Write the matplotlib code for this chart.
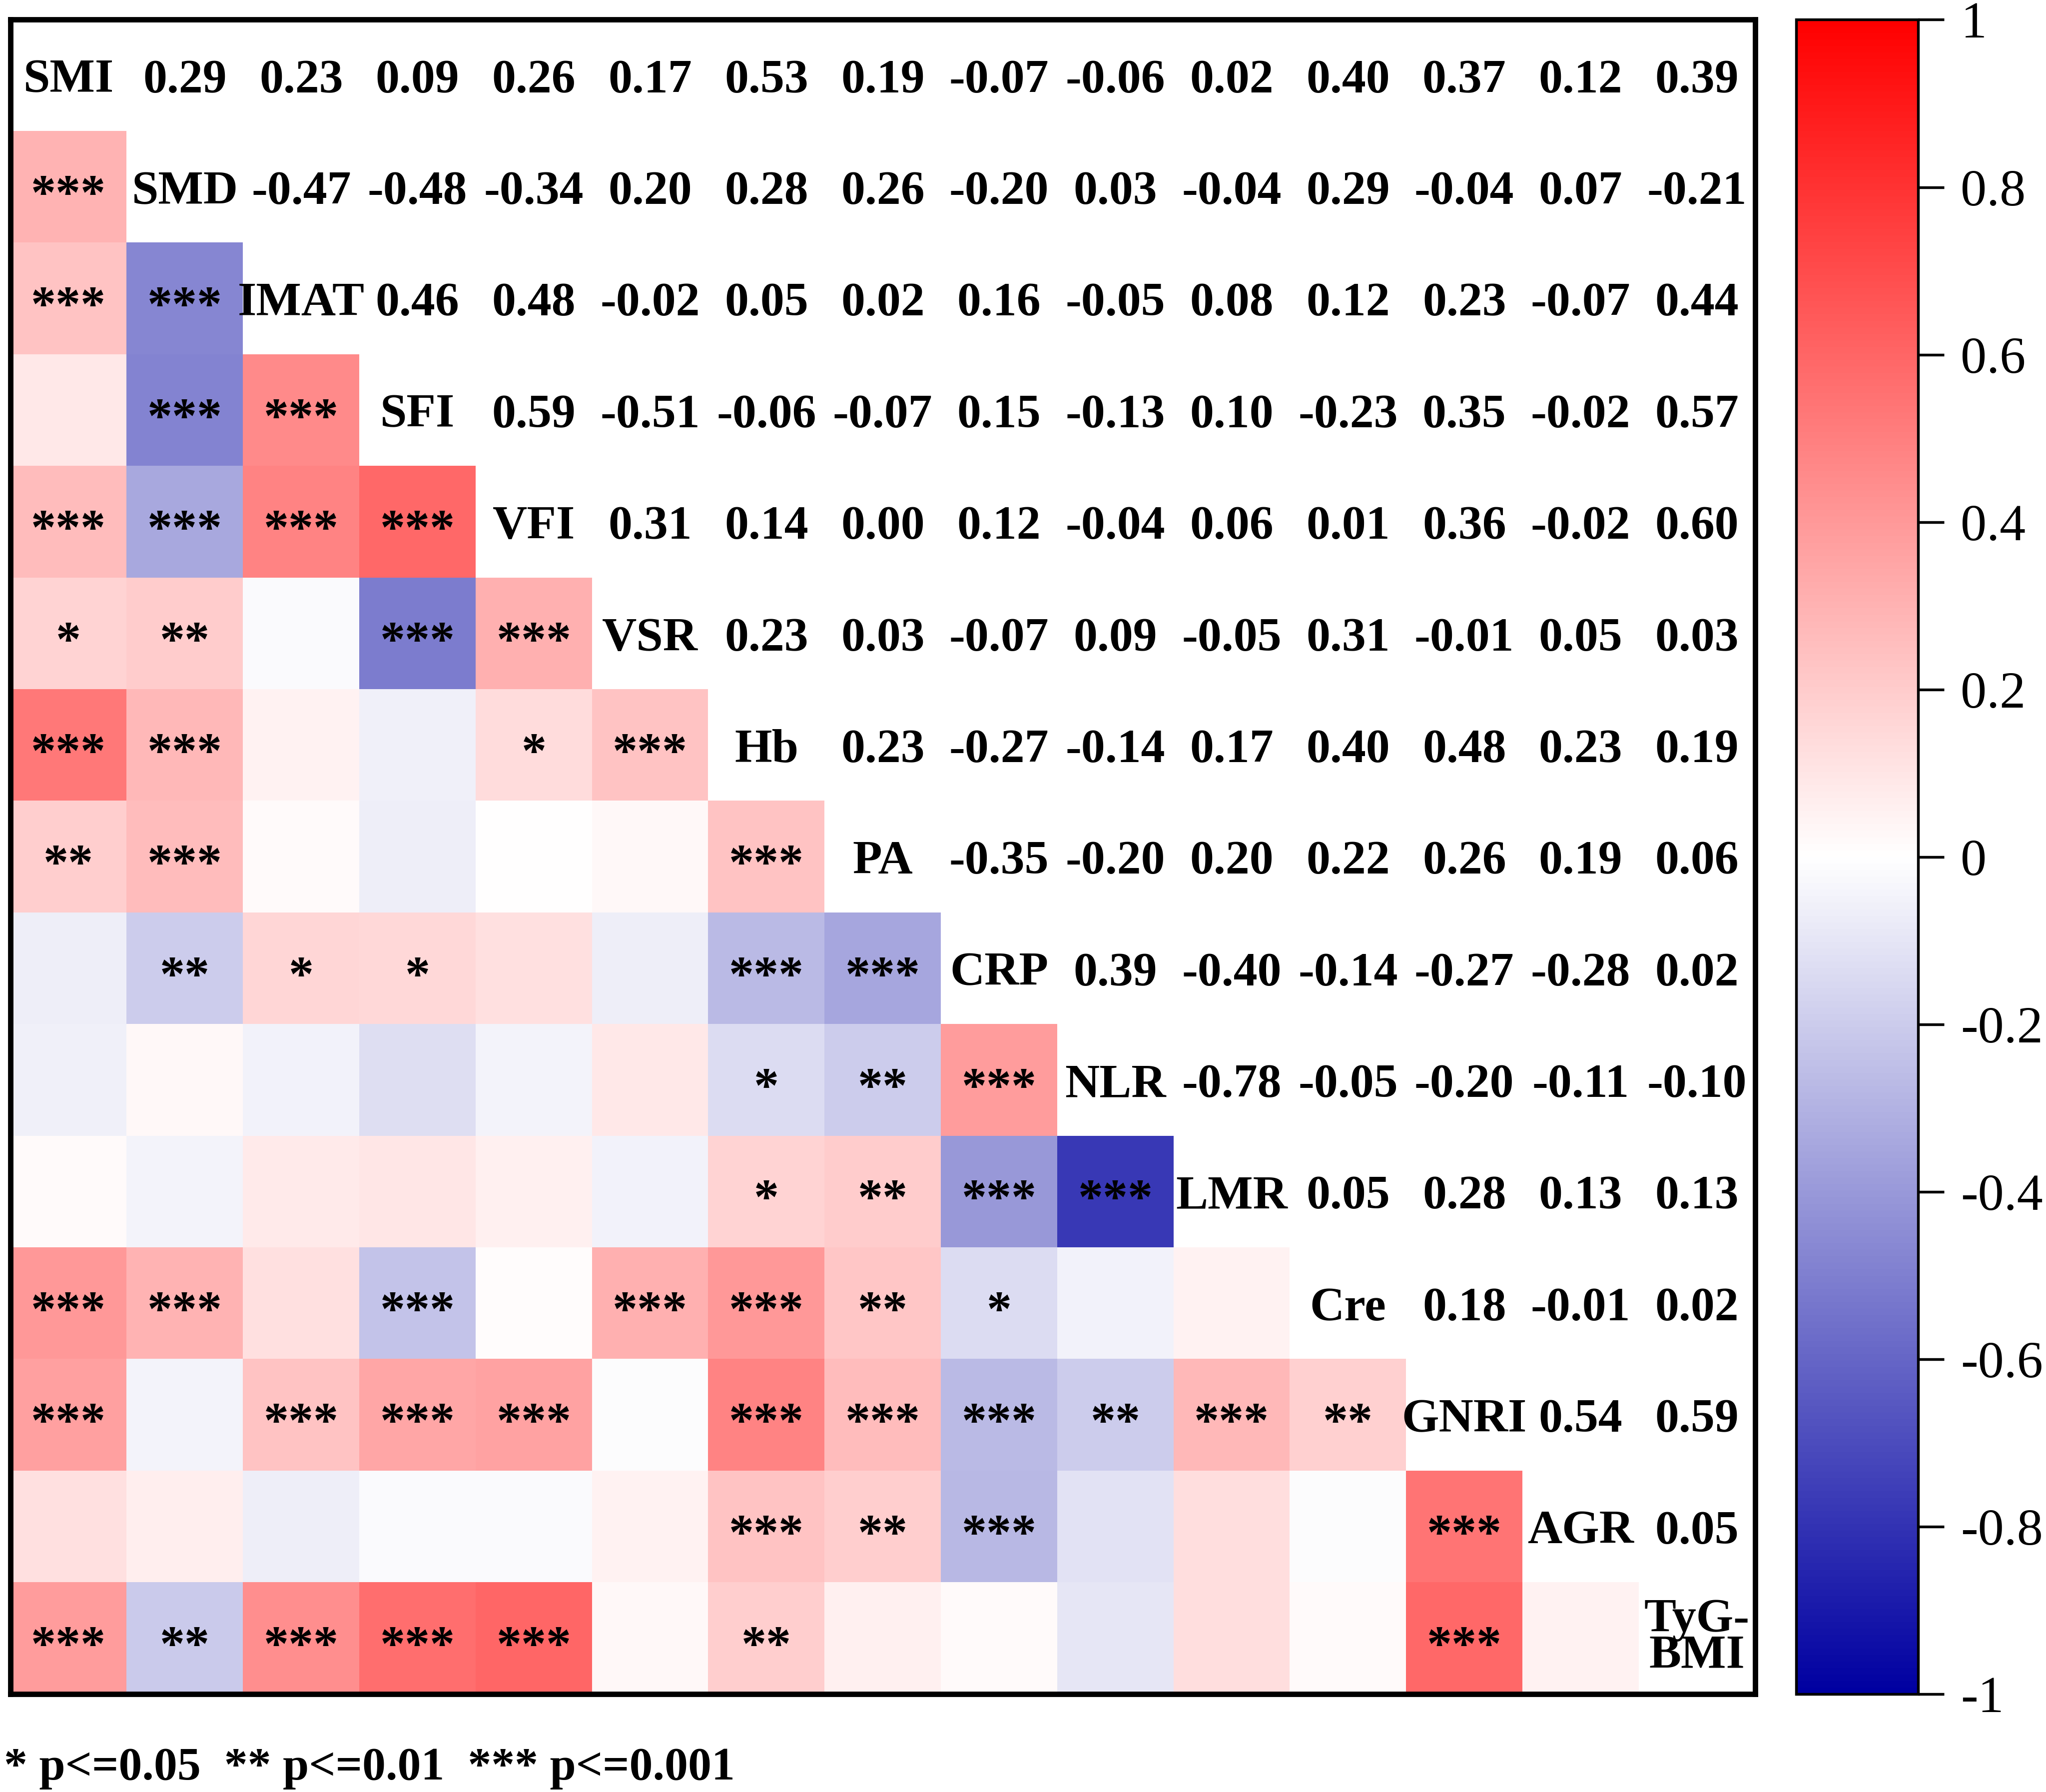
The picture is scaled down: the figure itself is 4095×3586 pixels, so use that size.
import numpy as np
import matplotlib.pyplot as plt
from matplotlib.colors import LinearSegmentedColormap

plt.rcParams['font.family'] = ['Liberation Serif', 'DejaVu Serif']

labels = ["SMI", "SMD", "IMAT", "SFI", "VFI", "VSR", "Hb", "PA",
          "CRP", "NLR", "LMR", "Cre", "GNRI", "AGR", "TyG-\nBMI"]

# correlation coefficients, row i holds the values for columns j > i
upper_vals = [
    [0.29, 0.23, 0.09, 0.26, 0.17, 0.53, 0.19, -0.07, -0.06, 0.02, 0.40, 0.37, 0.12, 0.39],
    [-0.47, -0.48, -0.34, 0.20, 0.28, 0.26, -0.20, 0.03, -0.04, 0.29, -0.04, 0.07, -0.21],
    [0.46, 0.48, -0.02, 0.05, 0.02, 0.16, -0.05, 0.08, 0.12, 0.23, -0.07, 0.44],
    [0.59, -0.51, -0.06, -0.07, 0.15, -0.13, 0.10, -0.23, 0.35, -0.02, 0.57],
    [0.31, 0.14, 0.00, 0.12, -0.04, 0.06, 0.01, 0.36, -0.02, 0.60],
    [0.23, 0.03, -0.07, 0.09, -0.05, 0.31, -0.01, 0.05, 0.03],
    [0.23, -0.27, -0.14, 0.17, 0.40, 0.48, 0.23, 0.19],
    [-0.35, -0.20, 0.20, 0.22, 0.26, 0.19, 0.06],
    [0.39, -0.40, -0.14, -0.27, -0.28, 0.02],
    [-0.78, -0.05, -0.20, -0.11, -0.10],
    [0.05, 0.28, 0.13, 0.13],
    [0.18, -0.01, 0.02],
    [0.54, 0.59],
    [0.05],
]

# significance marks, row i holds the marks for columns j < i
lower_stars = [
    [],
    ["***"],
    ["***", "***"],
    ["", "***", "***"],
    ["***", "***", "***", "***"],
    ["*", "**", "", "***", "***"],
    ["***", "***", "", "", "*", "***"],
    ["**", "***", "", "", "", "", "***"],
    ["", "**", "*", "*", "", "", "***", "***"],
    ["", "", "", "", "", "", "*", "**", "***"],
    ["", "", "", "", "", "", "*", "**", "***", "***"],
    ["***", "***", "", "***", "", "***", "***", "**", "*", "", ""],
    ["***", "", "***", "***", "***", "", "***", "***", "***", "**", "***", "**"],
    ["", "", "", "", "", "", "***", "**", "***", "", "", "", "***"],
    ["***", "**", "***", "***", "***", "", "**", "", "", "", "", "", "***", ""],
]

cbar_ticks = [-1, -0.8, -0.6, -0.4, -0.2, 0, 0.2, 0.4, 0.6, 0.8, 1]
legend_text = "* p<=0.05  ** p<=0.01  *** p<=0.001"

n = len(labels)
corr = np.eye(n)
for i, row in enumerate(upper_vals):
    for k, v in enumerate(row):
        corr[i, i + 1 + k] = v
        corr[i + 1 + k, i] = v

lower_mask = np.tril(np.ones((n, n), dtype=bool), k=-1)
colored = np.ma.masked_where(~lower_mask, corr)

cmap = LinearSegmentedColormap.from_list(
    "bwr_prism", [(0, 0, 0.63), (1, 1, 1), (1, 0, 0)], N=256)

fig = plt.figure(figsize=(4095 / 300, 3586 / 300), dpi=300)
ax = fig.add_axes([0.0051, 0.0546, 0.8527, 0.9344])
im = ax.imshow(colored, cmap=cmap, vmin=-1, vmax=1, aspect='auto',
               interpolation='nearest')
ax.set_xlim(-0.5, n - 0.5)
ax.set_ylim(n - 0.5, -0.5)
ax.set_xticks([])
ax.set_yticks([])
for s in ax.spines.values():
    s.set_linewidth(2.6)

fs = 23
star_fs = 24
txt_off = 0.15
star_off = 0.19
for i in range(n):
    for j in range(n):
        if i == j:
            if "\n" in labels[i]:
                ax.text(j, i, labels[i], ha='center', va='center',
                        fontsize=fs, fontweight='bold', linespacing=0.8)
            else:
                ax.text(j, i + txt_off, labels[i], ha='center', va='baseline',
                        fontsize=fs, fontweight='bold')
        elif j > i:
            ax.text(j, i + txt_off, f"{corr[i, j]:.2f}", ha='center',
                    va='baseline', fontsize=fs, fontweight='bold')
        else:
            mark = lower_stars[i][j]
            if mark:
                ax.text(j, i + star_off, mark, ha='center', va='baseline',
                        fontsize=star_fs, fontweight='bold')

cax = fig.add_axes([0.878, 0.0546, 0.0595, 0.9344])
cb = fig.colorbar(im, cax=cax, ticks=cbar_ticks)
cb.ax.set_yticklabels([f"{t:g}" for t in cbar_ticks])
cb.ax.tick_params(labelsize=25, length=12.5, width=1.3, pad=8)
cb.outline.set_linewidth(1.3)

fig.text(0.002, 0.007, legend_text, ha='left', va='baseline',
         fontsize=22.5, fontweight='bold')

fig.savefig("out.png", dpi=300)
plt.close(fig)
